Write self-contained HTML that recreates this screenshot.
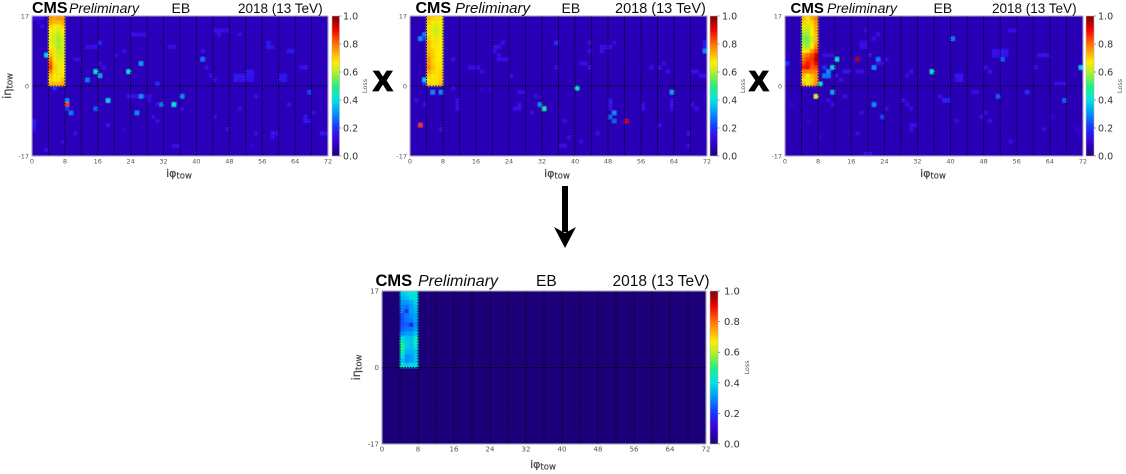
<!DOCTYPE html>
<html lang="en">
<head>
<meta charset="utf-8">
<title>CMS EB occupancy loss maps</title>
<style>
html,body{margin:0;padding:0;background:#fff;width:1126px;height:474px;overflow:hidden}
svg{display:block}
.cms{font-family:"Liberation Sans",sans-serif;font-weight:bold;fill:#000}
.pre{font-family:"Liberation Sans",sans-serif;font-style:italic;fill:#111}
.ttl{font-family:"Liberation Sans",sans-serif;fill:#111}
.tick{font-family:"DejaVu Sans",sans-serif;fill:#555}
.cbt{font-family:"DejaVu Sans",sans-serif;fill:#333}
.axt{font-family:"DejaVu Sans",sans-serif;fill:#444;stroke:#444;stroke-width:.2}
</style>
</head>
<body>
<svg id="figure" xmlns="http://www.w3.org/2000/svg" width="1126" height="474" viewBox="0 0 1126 474">
  <defs>
    <filter id="soft" x="-2%" y="-2%" width="104%" height="104%"><feGaussianBlur stdDeviation="0.65"/></filter>
    <filter id="softText" x="-5%" y="-5%" width="110%" height="110%"><feGaussianBlur stdDeviation="0.25"/></filter>
    <linearGradient id="jetGradient" x1="0" y1="1" x2="0" y2="0"></linearGradient>
  </defs>
  <g id="charts"></g>
  <g filter="url(#softText)">
    <g>
      <text class="cms" x="32" y="13" font-size="16">CMS</text>
      <text class="pre" x="69" y="13" font-size="14">Preliminary</text>
      <text class="ttl" x="171.500" y="13" font-size="14">EB</text>
      <text class="ttl" x="238" y="13" font-size="13.5">2018 (13 TeV)</text>
    </g>
    <g>
      <text class="cms" x="415.500" y="13" font-size="16">CMS</text>
      <text class="pre" x="455" y="13" font-size="15">Preliminary</text>
      <text class="ttl" x="561.500" y="13" font-size="14">EB</text>
      <text class="ttl" x="615" y="13" font-size="14.500">2018 (13 TeV)</text>
    </g>
    <g>
      <text class="cms" x="790.500" y="13" font-size="15">CMS</text>
      <text class="pre" x="827" y="13" font-size="14">Preliminary</text>
      <text class="ttl" x="933.500" y="13" font-size="14">EB</text>
      <text class="ttl" x="992" y="13" font-size="13.500">2018 (13 TeV)</text>
    </g>
    <g>
      <text class="cms" x="375.500" y="286" font-size="16.500">CMS</text>
      <text class="pre" x="418" y="286" font-size="16">Preliminary</text>
      <text class="ttl" x="536" y="286" font-size="15.500">EB</text>
      <text class="ttl" x="612.500" y="286" font-size="15.500">2018 (13 TeV)</text>
    </g>
  </g>
  <text x="373.500" y="90.500" font-family="'Liberation Sans',sans-serif" font-weight="bold" font-size="28" fill="#000" stroke="#000" stroke-width="1.8">X</text>
  <text x="749.500" y="90.500" font-family="'Liberation Sans',sans-serif" font-weight="bold" font-size="28" fill="#000" stroke="#000" stroke-width="1.8">X</text>
  <g fill="#000">
    <rect x="562" y="186" width="6" height="46"/>
    <polygon points="554,227 565,233 576,227 565,248"/>
  </g>
</svg>
<script>
// Colour scale (value, colour)
const scaleValues = [0, 0.06, 0.13, 0.2, 0.3, 0.4, 0.5, 0.6, 0.67, 0.8, 0.9, 1];
const scaleColors = ['#1f007a', '#2a00b4', '#3a08e4', '#1a30ff', '#0090ff', '#00e4e4', '#20f080', '#b8f020', '#ffee00', '#ff7000', '#f80000', '#780000'];

// Tick labels
const phiTicks = [0, 8, 16, 24, 32, 40, 48, 56, 64, 72];
const etaTicks = [17, 0, -17];
const lossTicks = [0, 0.2, 0.4, 0.6, 0.8, 1];
const phiGridLines = [4, 8, 12, 16, 20, 24, 28, 32, 36, 40, 44, 48, 52, 56, 60, 64, 68];

// Block of bad towers: iphi 4-7, ieta 16 down to 0; each row lists four towers
const blockPhi = [4, 5, 6, 7];
const panel1Block = [
  [.76,.74,.76,.76],[.74,.72,.72,.74],[.70,.67,.65,.70],[.67,.65,.63,.67],[.65,.63,.60,.65],[.65,.63,.59,.63],
  [.65,.63,.59,.63],[.67,.63,.58,.63],[.70,.65,.61,.63],[.72,.65,.63,.63],[.78,.67,.63,.65],[.82,.69,.65,.65],
  [.84,.70,.65,.67],[.78,.69,.65,.67],[.72,.67,.65,.68],[.70,.68,.68,.72],[.72,.72,.72,.74]];
const panel2Block = [
  [.72,.70,.68,.68],[.70,.67,.65,.67],[.68,.65,.63,.67],[.68,.63,.61,.65],[.68,.65,.63,.65],[.70,.67,.65,.67],
  [.72,.68,.65,.67],[.72,.68,.65,.67],[.72,.70,.67,.67],[.74,.70,.67,.67],[.76,.70,.67,.67],[.76,.70,.68,.68],
  [.78,.72,.68,.68],[.74,.70,.68,.70],[.70,.68,.68,.70],[.68,.68,.68,.70],[.70,.68,.70,.72]];
const panel3Block = [
  [.72,.68,.74,.78],[.70,.66,.70,.76],[.66,.62,.68,.74],[.62,.60,.66,.74],[.58,.58,.66,.72],[.56,.55,.62,.72],
  [.58,.56,.64,.74],[.60,.58,.66,.78],[.66,.68,.76,.84],[.76,.80,.84,.92],[.80,.84,.86,.94],[.84,.88,.84,.90],
  [.88,.90,.82,.84],[.78,.78,.78,.78],[.72,.66,.72,.76],[.68,.64,.70,.76],[.72,.68,.72,.78]];
const panel4Block = [
  [.37,.39,.41,.41],[.34,.36,.39,.41],[.31,.31,.34,.38],[.29,.27,.32,.36],[.27,.19,.32,.34],[.23,.28,.30,.32],
  [.23,.27,.28,.32],[.23,.25,.17,.30],[.25,.27,.28,.32],[.30,.32,.32,.36],[.39,.36,.36,.43],[.45,.37,.36,.45],
  [.50,.37,.36,.39],[.45,.34,.34,.36],[.39,.30,.32,.36],[.36,.30,.32,.36],[.41,.37,.39,.39]];

// Individual towers: [iphi, ieta, loss]
const panel1Towers = [
  [3,7,.38],[15,3,.42],[16,2,.33],[13,1,.28],[23,3,.40],[26,5,.32],[41,6,.28],[30,0,.20],[26,-3,.30],[36,-3,.30],
  [18,-4,.38],[8,-4,.30],[8,-5,.85],[31,-5,.27],[34,-5,.42],[15,-6,.25],[8,-6,.20],[9,-7,.28],[25,-7,.30],[67,-2,.22],[5,-1,.20],
  [24,12,.13],[25,12,.13],[26,12,.14],[27,12,.12],[44,13,.13],[45,13,.14],[46,13,.12],[47,13,.12],[45,12,.13],[16,10,.18],
  [13,9,.14],[14,9,.14],[15,9,.15],[57,10,.16],[57,9,.15],[58,9,.13],[50,12,.14],[49,2,.15],[50,2,.15],[51,2,.15],[52,2,.16],[53,2,.15],
  [49,1,.15],[50,1,.14],[51,1,.15],[52,1,.14],[53,1,.14],[52,3,.15],[53,3,.16],[60,2,.16],[61,2,.15],[60,1,.16],[61,1,.16],[62,8,.15],[63,8,.15],
  [65,4,.14],[66,4,.15],[10,6,.12],[11,6,.12],[23,-3,.14],[24,-3,.15],[25,-3,.14],[27,-3,.14],[28,-3,.14],[28,-4,.13],[18,-10,.15],[0,-10,.16],[0,-9,.15],[0,-11,.14],
  [66,-8,.16],[66,-9,.15],[67,-9,.12],[58,-12,.15],[58,-13,.14],[59,-12,.13],[70,-12,.15],[71,-12,.14],[34,-15,.13],[35,-15,.14],[44,-8,.14],[54,-12,.12],
  [0,16,.12],[1,16,.14],[2,16,.13],[1,15,.11],[2,14,.12],[16,5,.12],[17,4,.13],[20,7,.12],[22,8,.12],[33,9,.13],[34,9,.12],[41,8,.13],[42,4,.13],[43,2,.14],[44,1,.12],
  [30,-5,.12],[36,-6,.12],[29,-8,.13],[30,-9,.12],[10,-12,.13],[7,-14,.12],[3,-16,.13],[22,-11,.11],[50,-6,.13],[54,-3,.13],[62,-5,.12],[68,-7,.12],[47,-11,.12],[53,-15,.11]];
const panel2Towers = [
  [3,12,.28],[2,11,.30],[3,11,.20],[3,1,.38],[3,0,.20],[2,-10,.85],[5,-2,.30],[7,-2,.30],[40,-1,.42],[63,-2,.33],[31,-5,.30],[32,-6,.48],
  [49,-7,.30],[48,-8,.25],[49,-9,.25],[52,-9,.93],[71,8,.30],[71,10,.17],[71,9,.17],[35,10,.20],
  [20,9,.14],[21,9,.13],[22,10,.14],[20,8,.14],[21,7,.12],[21,6,.13],[22,6,.14],[23,6,.13],[14,4,.13],[15,4,.14],[16,4,.13],[17,3,.12],[24,2,.12],[10,6,.12],
  [43,4,.12],[42,5,.13],[41,5,.13],[43,8,.12],[46,8,.13],[47,9,.14],[46,9,.13],[48,9,.13],[49,10,.12],[43,10,.13],[35,4,.12],[61,5,.12],[60,4,.13],[62,3,.13],
  [68,3,.13],[69,3,.13],[70,2,.14],[71,2,.13],[58,4,.13],[1,-4,.12],[3,-5,.12],[11,-4,.13],[11,-5,.14],[11,-6,.14],[26,-5,.14],[25,-6,.14],[26,-6,.13],
  [48,-4,.15],[48,-5,.15],[48,-6,.14],[56,-5,.14],[56,-6,.14],[63,-4,.14],[63,-5,.15],[63,-6,.14],[69,-6,.14],[68,-5,.13],[29,-7,.12],[37,-9,.12],[38,-13,.12],
  [7,-11,.12],[30,-3,.12],[26,-2,.12],[27,-2,.12],[19,-1,.11],[17,-1,.11],[10,-1,.12],[45,-12,.12],[41,-14,.12],[36,-15,.12],[37,-15,.13],[67,-12,.13],[67,-15,.12],[60,-10,.12]];
const panel3Towers = [
  [12,6,.42],[17,6,.95],[22,6,.28],[40,11,.28],[11,4,.38],[9,2,.28],[10,2,.28],[10,3,.30],[9,4,.20],[21,4,.30],[35,3,.42],[8,0,.42],[11,-2,.33],
  [7,-3,.65],[21,-5,.30],[23,-8,.22],[51,-3,.25],[67,-4,.25],[58,-2,.20],[52,6,.25],[0,5,.20],[71,4,.38],
  [50,8,.14],[51,8,.14],[52,8,.15],[53,8,.15],[50,7,.14],[51,7,.14],[52,7,.15],[53,7,.14],[54,13,.14],[55,13,.14],[18,10,.14],[19,10,.14],[18,9,.14],[19,9,.14],
  [61,7,.14],[62,7,.15],[63,7,.14],[38,-4,.18],[39,-4,.18],[37,-3,.13],[41,2,.15],[42,2,.15],[41,1,.14],[42,1,.15],[30,-10,.13],[31,-10,.14],[30,-11,.13],[19,-17,.14],[20,-17,.14],
  [9,7,.12],[10,7,.12],[11,7,.12],[14,3,.15],[15,3,.13],[17,3,.14],[18,3,.13],[20,7,.13],[22,5,.13],[23,5,.12],[24,6,.12],[12,2,.13],[13,1,.12],[30,3,.13],[29,2,.12],
  [48,4,.13],[49,3,.13],[60,4,.13],[65,0,.13],[66,0,.13],[67,0,.13],[45,-2,.12],[46,-2,.12],[14,-3,.13],[10,-4,.12],[11,-5,.12],[18,-7,.12],[24,-6,.12],[28,-4,.13],[29,-5,.12],[30,-6,.12],
  [41,-9,.12],[47,-8,.13],[48,-7,.12],[49,-9,.12],[17,-12,.12],[5,-9,.11],[1,-5,.11],[62,-11,.12],[64,-8,.11],[8,-13,.11],[54,-14,.12],[70,-11,.11],[19,13,.12],[21,11,.12],[22,12,.13]];
const panel4Towers = [];

const panels = [
  {id:1, x:32, y:16, w:296, h:140, base:.07, block:panel1Block, towers:panel1Towers, barX:332, barW:7.5, cbx:343, cbf:9.5, loss:365, phiX:179, phiY:174, etaX:8, tickF:6.5, showEta:true},
  {id:2, x:410, y:16, w:297, h:140, base:.065, block:panel2Block, towers:panel2Towers, barX:710, barW:7.5, cbx:722, cbf:9.5, loss:743, phiX:557, phiY:174, etaX:0, tickF:6.5, showEta:false},
  {id:3, x:785, y:16, w:298, h:140, base:.065, block:panel3Block, towers:panel3Towers, barX:1086, barW:8, cbx:1098, cbf:9.5, loss:1120, phiX:933, phiY:174, etaX:0, tickF:6.5, showEta:false},
  {id:4, x:382, y:291, w:324, h:153, base:0, block:panel4Block, towers:panel4Towers, barX:710, barW:8, cbx:724, cbf:10, loss:747, phiX:543, phiY:465, etaX:357, tickF:7, showEta:true}
];

const NS = 'http://www.w3.org/2000/svg';
function hexChannels(hex){
  return [parseInt(hex.substr(1,2),16), parseInt(hex.substr(3,2),16), parseInt(hex.substr(5,2),16)];
}
function colorFor(v){
  const t = Math.max(0, Math.min(1, v));
  if (t === 0) return scaleColors[0];
  for (let i = 1; i < scaleValues.length; i++){
    if (t <= scaleValues[i]){
      const f = (t - scaleValues[i-1]) / (scaleValues[i] - scaleValues[i-1]);
      const a = hexChannels(scaleColors[i-1]);
      const b = hexChannels(scaleColors[i]);
      return 'rgb(' + a.map(function(c, k){ return Math.round(c + (b[k] - c) * f); }).join(',') + ')';
    }
  }
  return scaleColors[scaleColors.length - 1];
}
function make(tag, parent, attrs){
  const el = document.createElementNS(NS, tag);
  for (const key in attrs) el.setAttribute(key, attrs[key]);
  parent.appendChild(el);
  return el;
}

const gradient = document.getElementById('jetGradient');
scaleValues.forEach(function(v, i){
  const stop = make('stop', gradient, {offset: v, 'stop-color': scaleColors[i]});
  
  
});

const root = document.getElementById('charts');
panels.forEach(function(p){
  const xScale = function(phi){ return p.x + phi / 72 * p.w; };
  const yScale = function(eta){ return p.y + (17 - eta) / 34 * p.h; };
  const lossScale = function(v){ return p.y + p.h - v * p.h; };
  const cw = p.w / 72, ch = p.h / 34;

  const panel = make('g', root, {});
  
  

  const cells = make('g', panel, {filter: 'url(#soft)'});
  
  

  const bg = make('rect', cells, {x: xScale(0), y: yScale(17), width: p.w, height: p.h, fill: colorFor(p.base)});
  
  

  p.block.forEach(function(row, r){
    row.forEach(function(v, c){
      const cell = make('rect', cells, {x: xScale(blockPhi[c]), y: yScale(17 - r), width: cw + .2, height: ch + .2, fill: colorFor(v)});
      
      
    });
  });
  p.towers.forEach(function(t){
    const cell = make('rect', cells, {x: xScale(t[0]), y: yScale(t[1] + 1), width: cw + .1, height: ch + .1, fill: colorFor(t[2])});
    
    
  });

  phiGridLines.forEach(function(phi){
    const line = make('line', panel, {x1: xScale(phi), x2: xScale(phi), y1: p.y, y2: p.y + p.h, stroke: '#000', 'stroke-width': 1, 'stroke-dasharray': '1.4 1.4', opacity: .9});
    
    
  });
  const zero = make('line', panel, {x1: p.x, x2: p.x + p.w, y1: yScale(0), y2: yScale(0), stroke: '#000', 'stroke-width': 1, 'stroke-dasharray': '1.4 1.4', opacity: .95});
  
  

  const frame = make('rect', panel, {x: p.x, y: p.y, width: p.w, height: p.h, fill: 'none', stroke: '#b5b5b5', 'stroke-width': .8});
  
  

  const labels = make('g', panel, {filter: 'url(#softText)'});
  
  

  phiTicks.forEach(function(phi){
    const t = make('text', labels, {x: xScale(phi), y: p.y + p.h + 7.5, 'text-anchor': 'middle', 'font-size': p.tickF, class: 'tick'});
    t.textContent = phi;
    
    
  });
  etaTicks.forEach(function(eta){
    const t = make('text', labels, {x: p.x - 3, y: yScale(eta) + 2.4, 'text-anchor': 'end', 'font-size': p.tickF, class: 'tick'});
    t.textContent = eta;
    
    
  });

  const xTitle = make('text', labels, {x: p.phiX, y: p.phiY + 3, 'text-anchor': 'middle', 'font-size': 11, class: 'axt'});
  
  
  xTitle.textContent = 'iφ';
  const xSub = make('tspan', xTitle, {'font-size': 8.5, dy: 1.5});
  xSub.textContent = 'tow';

  if (p.showEta){
    const cy = p.y + p.h / 2;
    const yTitle = make('text', labels, {x: p.etaX, y: cy, 'text-anchor': 'middle', 'font-size': 11.5, class: 'axt', transform: 'rotate(-90 ' + p.etaX + ' ' + cy + ') translate(0 3)'});
    
    
    yTitle.textContent = 'iη';
    const ySub = make('tspan', yTitle, {'font-size': 8.5, dy: 1.5});
    ySub.textContent = 'tow';
  }

  const bar = make('rect', panel, {x: p.barX, y: p.y, width: p.barW, height: p.h, fill: 'url(#jetGradient)', stroke: '#b5b5b5', 'stroke-width': .6});
  
  

  lossTicks.forEach(function(v){
    const mark = make('line', panel, {x1: p.barX + p.barW, x2: p.barX + p.barW + 2, y1: lossScale(v), y2: lossScale(v), stroke: '#555', 'stroke-width': .6});
    
    
    const t = make('text', labels, {x: p.cbx, y: lossScale(v) + 3.5, 'font-size': p.cbf, class: 'cbt'});
    t.textContent = v.toFixed(1);
    
    
  });

  const ly = p.y + p.h / 2;
  const lossLabel = make('text', labels, {x: p.loss, y: ly, 'text-anchor': 'middle', 'font-size': 6.5, fill: '#555', 'font-family': "'DejaVu Sans',sans-serif", transform: 'rotate(-90 ' + p.loss + ' ' + ly + ') translate(0 2)'});
  lossLabel.textContent = 'Loss';
  
  
});
</script>
</body>
</html>
